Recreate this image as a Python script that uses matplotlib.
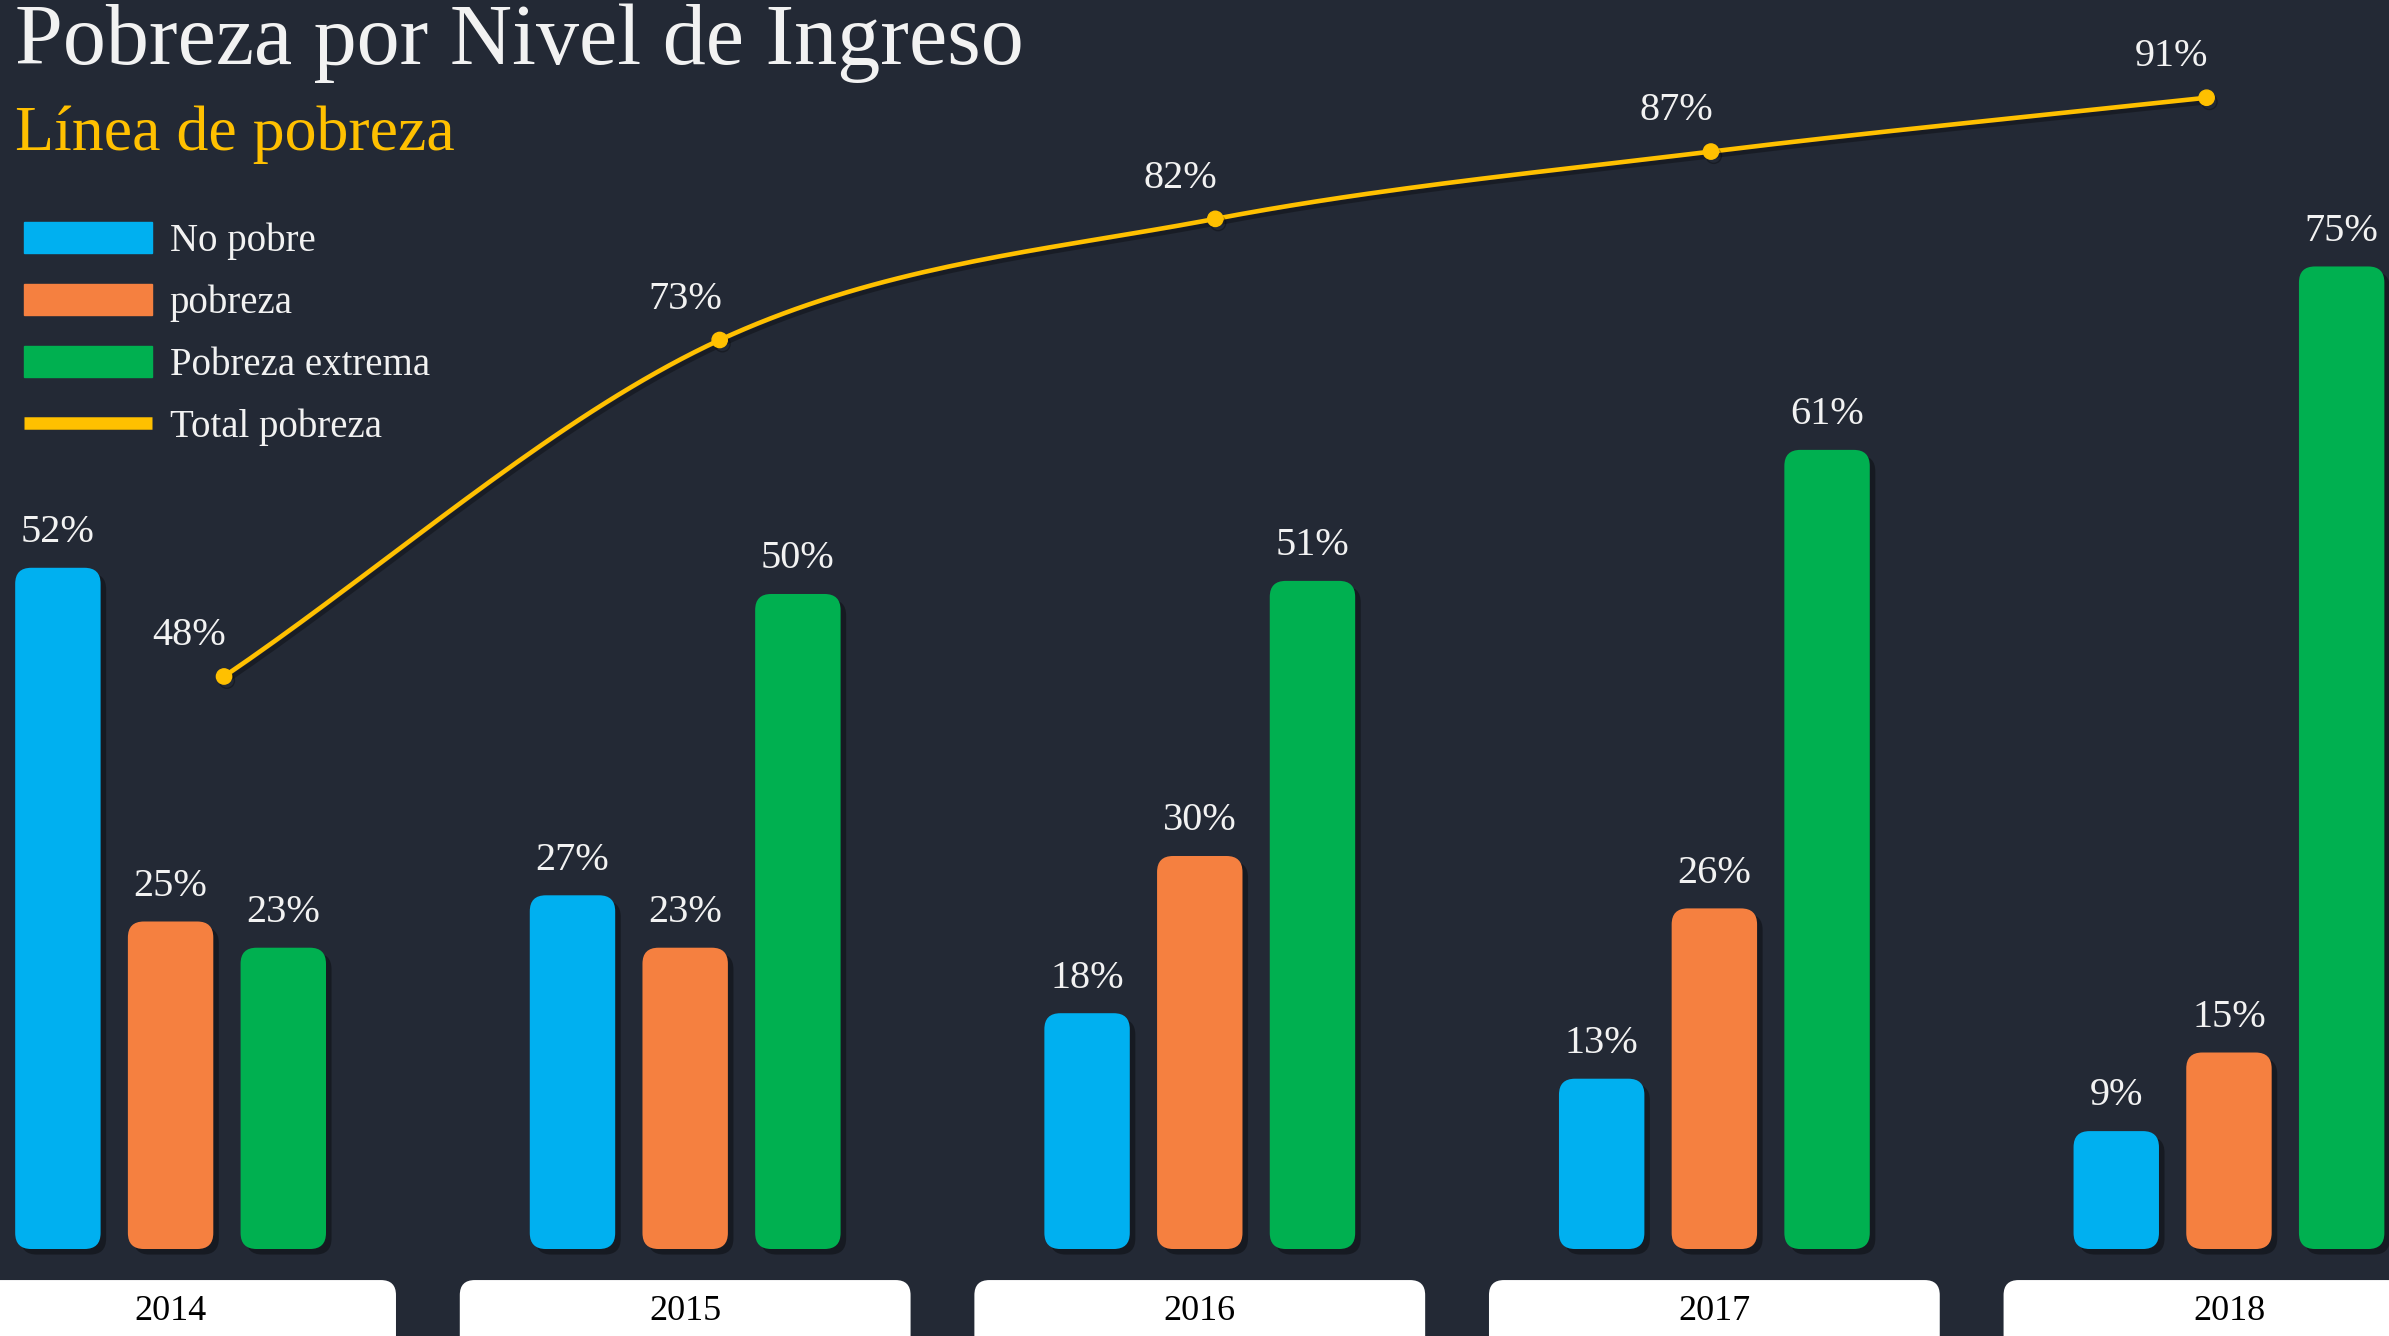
import numpy as np
import matplotlib
matplotlib.use('Agg')
import matplotlib.pyplot as plt
from matplotlib.patches import FancyBboxPatch, Patch
from matplotlib.lines import Line2D
import matplotlib.patheffects as pe

# Data
years = ['2014', '2015', '2016', '2017', '2018']
no_pobre = [52, 27, 18, 13, 9]
pobreza = [25, 23, 30, 26, 15]
pobreza_extrema = [23, 50, 51, 61, 75]
total_pobreza = [48, 73, 82, 87, 91]

BG = '#232935'
BLUE = '#00B0F0'
ORANGE = '#F58040'
GREEN = '#00B050'
YELLOW = '#FFC000'
WHITE = '#F2F2F2'
FONT = ['Liberation Serif', 'DejaVu Serif']

plt.rcParams['font.family'] = FONT

fig = plt.figure(figsize=(23.89, 13.36), dpi=100, facecolor=BG)

# bar axes (fills the whole canvas)
ax = fig.add_axes([0, 0, 1, 1])
ax.set_xlim(-0.3315, 4.311)
ax.set_ylim(-6.64, 95.34)
ax.axis('off')

# pixel size of one data unit -> used to keep the rounded corners round
px_x = 2389 / (4.311 + 0.3315)
px_y = 1336 / (95.34 + 6.64)
asp = px_x / px_y
r = 16 / px_x

x = np.arange(len(years))
off = 0.219
width = 0.166

shadow = [pe.SimplePatchShadow(offset=(4, -4), shadow_rgbFace='black', alpha=0.35), pe.Normal()]

for vals, color, dx in [(no_pobre, BLUE, -off), (pobreza, ORANGE, 0), (pobreza_extrema, GREEN, off)]:
    bars = ax.bar(x + dx, vals, width=width, color=color)
    for rect, v in zip(bars, vals):
        bx, by = rect.get_x(), rect.get_y()
        w, h = rect.get_width(), rect.get_height()
        rect.remove()
        fb = FancyBboxPatch((bx, by), w, h, boxstyle=f'round,pad=0,rounding_size={r}',
                            mutation_aspect=asp, fc=color, ec='none', path_effects=shadow)
        ax.add_patch(fb)
        ax.annotate(f'{v}%', (bx + w / 2, v), xytext=(0, 12), textcoords='offset points',
                    ha='center', va='bottom', color=WHITE, fontsize=29)

# year boxes at the bottom
box_w = 0.876
for i, yr in enumerate(years):
    fb = FancyBboxPatch((i - box_w / 2, -12), box_w, 12 - 2.37,
                        boxstyle=f'round,pad=0,rounding_size={15 / px_x}',
                        mutation_aspect=asp, fc='white', ec='none')
    ax.add_patch(fb)
    ax.text(i, -4.8, yr, ha='center', va='center', color='black', fontsize=26)

# line axes (own scale)
ax2 = fig.add_axes([0, 0, 1, 1])
ax2.set_xlim(-0.452, 4.368)
ax2.set_ylim(-1.0, 98.26)
ax2.axis('off')
ax2.patch.set_alpha(0)

# smooth curve through the points (Catmull-Rom)
px = np.arange(len(total_pobreza), dtype=float)
py = np.array(total_pobreza, dtype=float)
P = np.column_stack([px, py])
P = np.vstack([2 * P[0] - P[1], P, 2 * P[-1] - P[-2]])
cx, cy = [], []
for k in range(1, len(P) - 2):
    p0, p1, p2, p3 = P[k - 1], P[k], P[k + 1], P[k + 2]
    t = np.linspace(0, 1, 40)[:, None]
    seg = 0.5 * ((2 * p1) + (-p0 + p2) * t + (2 * p0 - 5 * p1 + 4 * p2 - p3) * t ** 2
                 + (-p0 + 3 * p1 - 3 * p2 + p3) * t ** 3)
    cx.extend(seg[:, 0]); cy.extend(seg[:, 1])

line_shadow = [pe.SimpleLineShadow(offset=(2, -3), alpha=0.3), pe.Normal()]
ax2.plot(cx, cy, color=YELLOW, lw=3.3, path_effects=line_shadow, solid_capstyle='round')
ax2.plot(px, py, 'o', color=YELLOW, ms=11, path_effects=line_shadow)
for xi, v in zip(px, total_pobreza):
    ax2.annotate(f'{v}%', (xi, v), xytext=(-25, 16), textcoords='offset points',
                 ha='center', va='bottom', color=WHITE, fontsize=29)

# titles
fig.text(0.0063, 0.952, 'Pobreza por Nivel de Ingreso', color=WHITE, fontsize=62,
         ha='left', va='baseline')
fig.text(0.0063, 0.888, 'Línea de pobreza', color=YELLOW, fontsize=46,
         ha='left', va='baseline')

# legend
handles = [Patch(color=BLUE), Patch(color=ORANGE), Patch(color=GREEN),
           Line2D([0], [0], color=YELLOW, lw=9, solid_capstyle='butt')]
labels = ['No pobre', 'pobreza', 'Pobreza extrema', 'Total pobreza']
leg = fig.legend(handles, labels, loc='upper left', bbox_to_anchor=(24 / 2389, 1 - 222 / 1336),
                 frameon=False, fontsize=28, handlelength=3.3, handleheight=0.85,
                 handletextpad=0.45, labelspacing=0.62, borderpad=0, borderaxespad=0)
for t in leg.get_texts():
    t.set_color(WHITE)

fig.savefig('out.png', dpi=100, facecolor=BG)
